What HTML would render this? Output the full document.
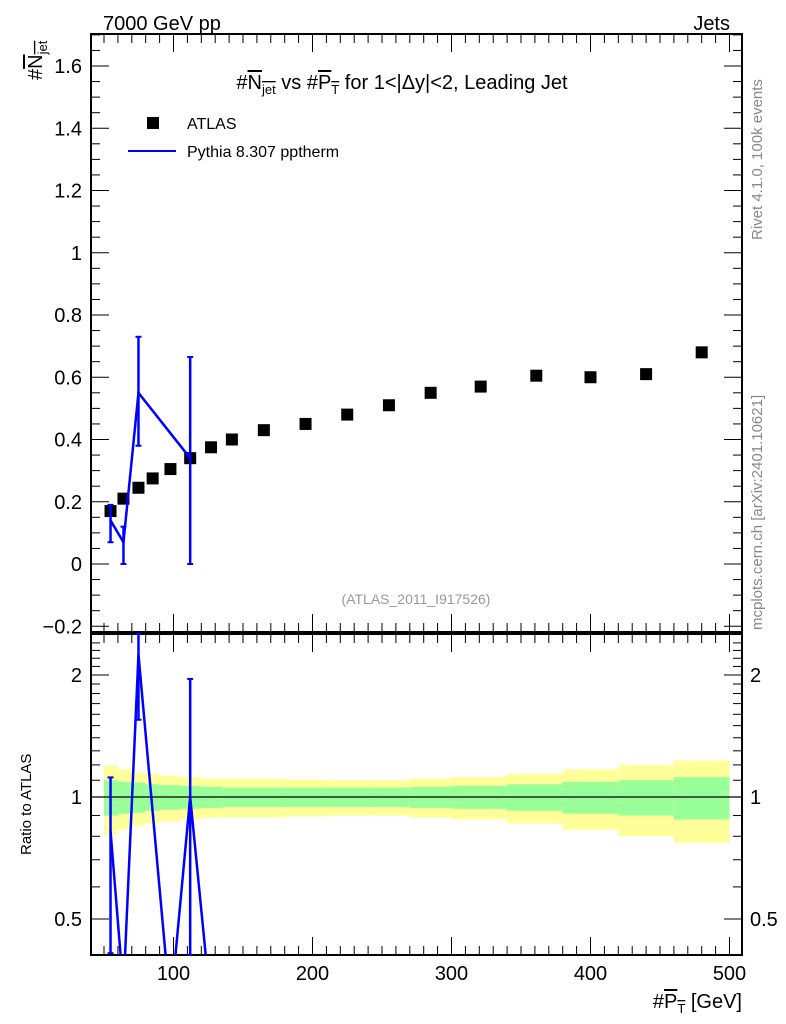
<!DOCTYPE html>
<html><head><meta charset="utf-8"><style>
html,body{margin:0;padding:0;background:#fff;width:786px;height:1024px;overflow:hidden;}
svg{display:block;font-family:"Liberation Sans",sans-serif;}
</style></head><body>
<svg id="c" width="786" height="1024" xmlns="http://www.w3.org/2000/svg">
<text x="103" y="30" font-size="20">7000 GeV pp</text>
<text x="730" y="30" font-size="20" text-anchor="end">Jets</text>
<text x="402" y="89" font-size="20" text-anchor="middle">#<tspan text-decoration="overline">N<tspan font-size="13" dy="5">jet</tspan></tspan><tspan dy="-5"> vs #</tspan><tspan text-decoration="overline">P<tspan font-size="13" dy="5">T</tspan></tspan><tspan dy="-5"> for 1&lt;|Δy|&lt;2, Leading Jet</tspan></text>
<g><text transform="translate(42,80) rotate(-90)" font-size="20">#<tspan text-decoration="overline">N<tspan font-size="13" dy="5">jet</tspan></tspan></text></g>
<text transform="translate(762,240) rotate(-90)" font-size="15" fill="#888">Rivet 4.1.0,  100k events</text>
<text transform="translate(762,630) rotate(-90)" font-size="15" fill="#888">mcplots.cern.ch [arXiv:2401.10621]</text>
<text x="416" y="604" font-size="14" fill="#999" text-anchor="middle">(ATLAS_2011_I917526)</text>
<text x="31" y="855" transform="rotate(-90,31,855)" font-size="15">Ratio to ATLAS</text>
<text x="742" y="1008" font-size="20" text-anchor="end">#<tspan text-decoration="overline">P<tspan font-size="13" dy="5">T</tspan></tspan><tspan dy="-5"> [GeV]</tspan></text>
<g>
<rect x="147" y="117" width="12" height="12" fill="#000"/>
<text x="187" y="129" font-size="16">ATLAS</text>
<line x1="128" y1="151" x2="176" y2="151" stroke="#00f" stroke-width="2"/>
<text x="187" y="157" font-size="16">Pythia 8.307 pptherm</text>
</g>
<g id="plot"></g>
</svg>
<script>
const dataX=[54.7,64,74.8,85,97.8,112,127,142,165,195,225,255,285,321,361,400,440,480];
const dataY=[0.17,0.21,0.245,0.275,0.305,0.34,0.375,0.40,0.43,0.45,0.48,0.51,0.55,0.57,0.605,0.60,0.61,0.68];
const binEdges=[50,60,70,80,90,105,120,135,150,180,210,240,270,300,340,380,420,460,500];
const yellowHalf=[0.195,0.17,0.15,0.14,0.13,0.12,0.11,0.11,0.11,0.105,0.10,0.10,0.11,0.12,0.14,0.17,0.20,0.23];
const greenHalf=[0.10,0.09,0.085,0.075,0.07,0.065,0.06,0.055,0.055,0.055,0.055,0.055,0.06,0.065,0.075,0.09,0.10,0.12];
const pyX=[54.7,64,74.8,97.8,112,127];
const pyY=[0.14,0.07,0.55,0,0.34,0];
const pyLo=[0.07,0.0,0.38,0,0.0,0];
const pyHi=[0.19,0.12,0.73,0,0.665,0];
const xTicks=[100,200,300,400,500];
const yTicks=[-0.2,0,0.2,0.4,0.6,0.8,1,1.2,1.4,1.6];
const rTicks=[0.5,1,2];
const L=91,R=742,T=34,MB=632,RT=634,RB=955;
const X=v=>34.5+1.39*v;
const Y=v=>564-311.25*v;
const RY=v=>797-122*Math.log2(v);
const g=document.getElementById('plot');
const NS='http://www.w3.org/2000/svg';
function mk(tag,attrs){const e=document.createElementNS(NS,tag);for(const k in attrs)e.setAttribute(k,attrs[k]);g.appendChild(e);return e;}
for(let i=0;i<yellowHalf.length;i++){
 const x0=X(binEdges[i]),x1=X(binEdges[i+1]);
 let e=mk('rect',{x:x0,y:RY(1+yellowHalf[i]),width:x1-x0,height:RY(1-yellowHalf[i])-RY(1+yellowHalf[i]),fill:'#ffff99'});
 
 
 e=mk('rect',{x:x0,y:RY(1+greenHalf[i]),width:x1-x0,height:RY(1-greenHalf[i])-RY(1+greenHalf[i]),fill:'#99ff99'});
 
 
}
let e=mk('line',{x1:L,x2:R,y1:RY(1),y2:RY(1),stroke:'#000','stroke-width':1.2});


e=mk('rect',{x:L,y:T,width:R-L,height:MB-T,fill:'none',stroke:'#000','stroke-width':2});


e=mk('rect',{x:L,y:RT,width:R-L,height:RB-RT,fill:'none',stroke:'#000','stroke-width':2});


for(let v=40;v<=510;v+=10){
 const x=X(v);if(x<L||x>R)continue;
 const maj=v%100===0,len=maj?18:9;
 for(const [a,b] of [[T,T+len],[MB,MB-len],[RT,RT+len],[RB,RB-len]]) mk('line',{x1:x,x2:x,y1:a,y2:b,stroke:'#000','stroke-width':1});
}
xTicks.forEach(v=>{const t=mk('text',{x:X(v),y:980,'font-size':20,'text-anchor':'middle'});t.textContent=v;
 
 });
for(let k=-4;k<=34;k++){const v=k*0.05;const y=Y(v);if(y<T||y>MB)continue;const len=k%4===0?18:9;
 mk('line',{x1:L,x2:L+len,y1:y,y2:y,stroke:'#000'});mk('line',{x1:R,x2:R-len,y1:y,y2:y,stroke:'#000'});}
yTicks.forEach(v=>{const t=mk('text',{x:82,y:Y(v)+7,'font-size':20,'text-anchor':'end'});t.textContent=(v<0?'\u22120.2':String(v));
 
 });
for(let v=0.4;v<=2.5;v+=0.1){const y=RY(v);if(y<RT||y>RB)continue;const maj=Math.abs(v-1)<1e-6||Math.abs(v-2)<1e-6||Math.abs(v-0.5)<1e-6;const len=maj?18:9;
 mk('line',{x1:L,x2:L+len,y1:y,y2:y,stroke:'#000'});mk('line',{x1:R,x2:R-len,y1:y,y2:y,stroke:'#000'});}
rTicks.forEach(v=>{let t=mk('text',{x:82,y:RY(v)+7,'font-size':20,'text-anchor':'end'});t.textContent=v;
 
 
 t=mk('text',{x:750,y:RY(v)+7,'font-size':20});t.textContent=v;
 
 });
dataX.forEach((x,i)=>{const r=mk('rect',{x:X(x)-6,y:Y(dataY[i])-6,width:12,height:12,fill:'#000'});
 
 });
const mainPts=[];
pyX.forEach((x,i)=>{if(pyY[i]>0){mainPts.push(X(x)+','+Y(pyY[i]));
 const l=mk('line',{x1:X(x),x2:X(x),y1:Y(pyLo[i]),y2:Y(pyHi[i]),stroke:'#00f','stroke-width':2.5});
 
 
 mk('line',{x1:X(x)-3,x2:X(x)+3,y1:Y(pyLo[i]),y2:Y(pyLo[i]),stroke:'#00f','stroke-width':2});
 mk('line',{x1:X(x)-3,x2:X(x)+3,y1:Y(pyHi[i]),y2:Y(pyHi[i]),stroke:'#00f','stroke-width':2});}});
e=mk('polyline',{points:mainPts.join(' '),fill:'none',stroke:'#00f','stroke-width':2.5});


const clipR=v=>Math.max(0.3,v);
const ratioPts=[];
pyX.forEach((x,i)=>{const d=dataY[dataX.indexOf(x)]||dataY[0];const rv=pyY[i]/d;const r=clipR(rv);ratioPts.push(X(x)+','+RY(r));
 if(pyY[i]>0&&rv>=0.4){const top=Math.max(RT,RY(clipR(pyHi[i]/d))),bot=Math.min(RB,RY(clipR(pyLo[i]/d)));
 const l=mk('line',{x1:X(x),x2:X(x),y1:top,y2:bot,stroke:'#00f','stroke-width':2.5});
 
 
 mk('line',{x1:X(x)-3,x2:X(x)+3,y1:top,y2:top,stroke:'#00f','stroke-width':2});
 mk('line',{x1:X(x)-3,x2:X(x)+3,y1:bot,y2:bot,stroke:'#00f','stroke-width':2});}});
const cp=mk('clipPath',{id:'rc'});const cr=document.createElementNS(NS,'rect');
cr.setAttribute('x',L);cr.setAttribute('y',RT);cr.setAttribute('width',R-L);cr.setAttribute('height',RB-RT);cp.appendChild(cr);
e=mk('polyline',{points:ratioPts.join(' '),fill:'none',stroke:'#00f','stroke-width':2.5,'clip-path':'url(#rc)'});


</script>
</body></html>
